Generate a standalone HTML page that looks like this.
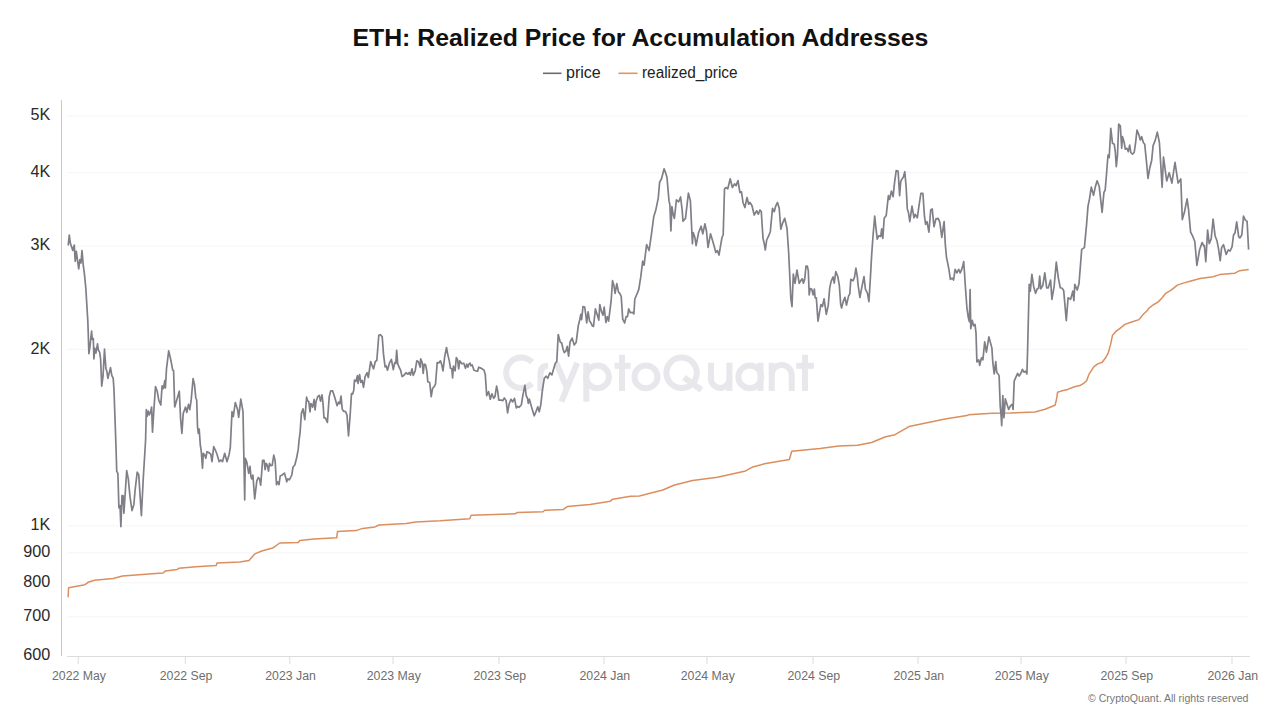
<!DOCTYPE html>
<html><head><meta charset="utf-8">
<style>
html,body{margin:0;padding:0;background:#fff;width:1280px;height:720px;overflow:hidden;}
svg{display:block;font-family:"Liberation Sans",sans-serif;}
</style></head><body>
<svg width="1280" height="720" viewBox="0 0 1280 720">
<rect width="1280" height="720" fill="#fff"/>
<text x="640.4" y="45.8" text-anchor="middle" font-size="24.82" font-weight="bold" fill="#111">ETH: Realized Price for Accumulation Addresses</text>
<line x1="543" x2="561.5" y1="73.3" y2="73.3" stroke="#6a6a74" stroke-width="1.6"/>
<text x="566" y="78" font-size="16" fill="#222">price</text>
<line x1="618.5" x2="637.5" y1="73.3" y2="73.3" stroke="#e3955f" stroke-width="1.6"/>
<text x="642" y="78" font-size="16" fill="#222" textLength="95.5" lengthAdjust="spacingAndGlyphs">realized_price</text>
<g stroke="#f5f5f5" stroke-width="1"><line x1="67" x2="1249" y1="115.9" y2="115.9" /><line x1="67" x2="1249" y1="172.7" y2="172.7" /><line x1="67" x2="1249" y1="246.0" y2="246.0" /><line x1="67" x2="1249" y1="349.3" y2="349.3" /><line x1="67" x2="1249" y1="525.9" y2="525.9" /><line x1="67" x2="1249" y1="552.8" y2="552.8" /><line x1="67" x2="1249" y1="582.8" y2="582.8" /><line x1="67" x2="1249" y1="616.8" y2="616.8" /></g>
<g fill="none" stroke="#e7e7ec" stroke-width="6">
<path d="M531.9,362.2 A15,15.2 0 1 0 531.9,383.4"/>
<path d="M540.5,391 V374 Q540.5,365.8 548.1,365.8"/>
<path d="M556.3,362.8 L567.3,389"/><path d="M577.2,362.8 L561.5,401.6"/>
<path d="M586.3,362.8 V401.6"/><circle cx="597.5" cy="376.9" r="11.4"/>
<path d="M614.5,365.8 H630.5"/><path d="M622,354.8 V391"/>
<circle cx="645.95" cy="376.9" r="11.45"/>
<circle cx="681.6" cy="372.8" r="15.2"/><path d="M684,377.5 L701.5,390"/>
<path d="M710.9,362.8 V378.5 A9.25,9.5 0 0 0 729.4,378.5"/><path d="M729.4,362.8 V391"/>
<circle cx="749.8" cy="376.9" r="11.4"/><path d="M760.5,362.8 V391"/>
<path d="M771.7,362.8 V391"/><path d="M771.7,375 A10,10 0 0 1 791.7,375 V391"/>
<path d="M796.2,365.8 H814"/><path d="M805,354.8 V391"/>
</g>
<line x1="61.5" x2="61.5" y1="100" y2="656" stroke="#c8c8c8" stroke-width="1"/>
<line x1="67" x2="1250" y1="656.5" y2="656.5" stroke="#dcdcdc" stroke-width="1"/>
<g stroke="#dcdcdc" stroke-width="1"><line x1="78.2" x2="78.2" y1="656.5" y2="664" /><line x1="185.3" x2="185.3" y1="656.5" y2="664" /><line x1="289.8" x2="289.8" y1="656.5" y2="664" /><line x1="393" x2="393" y1="656.5" y2="664" /><line x1="499" x2="499" y1="656.5" y2="664" /><line x1="604" x2="604" y1="656.5" y2="664" /><line x1="707" x2="707" y1="656.5" y2="664" /><line x1="813" x2="813" y1="656.5" y2="664" /><line x1="918" x2="918" y1="656.5" y2="664" /><line x1="1021" x2="1021" y1="656.5" y2="664" /><line x1="1126" x2="1126" y1="656.5" y2="664" /><line x1="1232" x2="1232" y1="656.5" y2="664" /></g>
<g font-size="16.2" fill="#2a2a2a" text-anchor="end"><text x="50.2" y="120.2">5K</text><text x="50.2" y="177.0">4K</text><text x="50.2" y="250.3">3K</text><text x="50.2" y="353.6">2K</text><text x="50.2" y="530.2">1K</text><text x="50.2" y="557.1">900</text><text x="50.2" y="587.1">800</text><text x="50.2" y="621.1">700</text><text x="50.2" y="660.4">600</text></g>
<g font-size="12.3" fill="#6e6e6e" text-anchor="middle"><text x="79.0" y="680">2022 May</text><text x="186.1" y="680">2022 Sep</text><text x="290.6" y="680">2023 Jan</text><text x="393.8" y="680">2023 May</text><text x="499.8" y="680">2023 Sep</text><text x="604.8" y="680">2024 Jan</text><text x="707.8" y="680">2024 May</text><text x="813.8" y="680">2024 Sep</text><text x="918.8" y="680">2025 Jan</text><text x="1021.8" y="680">2025 May</text><text x="1126.8" y="680">2025 Sep</text><text x="1232.8" y="680">2026 Jan</text></g>
<path d="M68.1,597.2 L68.6,587.8 L85.0,584.7 L88.1,582.3 L94.4,580.3 L113.1,578.4 L122.5,576.1 L152.2,573.8 L163.1,573.0 L165.5,570.9 L177.2,569.4 L178.8,568.3 L195.9,566.7 L216.2,565.6 L217.0,563.1 L239.7,562.0 L249.0,560.5 L254.7,553.9 L262.5,550.8 L272.7,548.1 L279.7,543.0 L298.4,542.5 L299.7,540.6 L314.0,539.1 L336.7,537.8 L337.5,531.6 L356.2,530.6 L362.5,528.4 L375.0,526.9 L378.9,525.0 L406.2,523.4 L415.6,521.9 L440.0,520.8 L469.7,518.8 L471.2,515.3 L515.0,513.8 L517.3,512.5 L543.1,511.7 L544.7,510.3 L563.4,509.4 L567.3,506.6 L590.0,504.4 L610.3,501.2 L612.7,499.2 L630.6,496.3 L639.4,495.9 L662.8,490.0 L673.8,485.3 L692.5,480.6 L717.5,477.2 L745.6,470.9 L751.9,467.3 L764.4,463.8 L789.4,459.5 L791.7,451.2 L809.7,449.4 L820.0,448.4 L838.8,446.1 L857.5,445.3 L871.6,442.5 L885.6,436.7 L895.0,434.7 L909.0,426.6 L929.4,422.2 L945.0,419.1 L966.9,415.6 L968.4,414.8 L991.9,413.3 L1010.0,413.0 L1035.0,412.0 L1045.0,409.2 L1055.0,405.3 L1056.4,400.0 L1057.6,392.2 L1061.1,391.1 L1067.8,389.4 L1074.4,386.7 L1080.0,385.6 L1084.4,382.8 L1086.7,380.6 L1088.9,374.4 L1093.9,366.7 L1097.8,363.9 L1102.2,362.2 L1105.6,357.8 L1108.3,352.8 L1110.6,344.4 L1112.4,335.6 L1115.6,331.7 L1120.0,328.3 L1124.9,324.4 L1131.7,322.0 L1139.0,319.6 L1143.3,314.2 L1147.2,310.8 L1148.7,308.4 L1153.0,305.0 L1157.9,302.1 L1161.8,298.2 L1165.7,293.3 L1171.5,289.9 L1177.3,285.1 L1183.2,283.1 L1190.0,281.2 L1200.0,278.6 L1213.1,276.7 L1219.7,274.6 L1234.7,273.2 L1239.3,270.8 L1248.7,269.5" fill="none" stroke="#db8e5e" stroke-width="1.5" stroke-linejoin="round"/>
<path d="M68.2,245.5 L69.3,235.1 L70.3,243.0 L72.8,250.5 L74.3,245.0 L75.2,261.3 L76.3,251.3 L78.7,268.8 L79.9,259.7 L81.0,263.0 L82.0,250.5 L83.2,264.7 L84.5,274.7 L85.8,288.0 L87.1,309.4 L87.8,320.6 L88.2,331.7 L88.9,353.6 L89.9,347.2 L91.6,331.2 L92.3,339.5 L93.3,338.5 L93.9,358.9 L94.7,348.2 L95.9,353.1 L97.5,343.8 L98.4,350.2 L99.6,352.1 L100.6,358.9 L101.7,386.1 L103.0,376.4 L104.5,349.2 L105.9,368.6 L106.9,371.6 L107.9,378.4 L109.1,373.5 L110.5,367.7 L111.8,375.4 L113.2,378.4 L114.0,390.0 L116.1,450.0 L116.7,471.1 L117.8,473.3 L118.0,476.7 L118.9,507.8 L120.0,505.6 L120.9,526.7 L122.0,495.6 L123.1,495.6 L123.9,513.3 L126.7,470.6 L128.3,478.9 L130.0,496.7 L132.0,510.6 L133.9,504.4 L135.0,491.1 L137.2,472.2 L138.7,474.4 L140.0,494.4 L141.4,515.6 L143.3,477.8 L145.0,450.0 L145.6,440.0 L146.3,409.6 L147.2,416.2 L148.3,411.0 L149.3,414.9 L150.7,411.6 L151.6,407.0 L152.5,432.1 L153.8,411.0 L155.5,386.6 L157.2,391.2 L158.8,400.4 L160.8,405.0 L162.1,385.9 L163.4,388.5 L164.8,380.6 L165.4,387.9 L166.5,368.7 L168.7,350.9 L171.0,360.8 L172.7,370.1 L173.6,370.7 L174.7,407.0 L176.6,400.4 L179.3,391.2 L180.6,418.9 L181.9,433.4 L183.2,413.6 L185.5,407.0 L186.8,412.3 L188.5,404.4 L189.8,409.6 L191.2,399.7 L193.1,378.6 L194.5,384.6 L195.8,398.0 L196.7,400.0 L197.5,426.7 L198.3,433.3 L199.2,429.2 L200.3,445.0 L201.3,451.7 L202.5,468.3 L203.3,453.3 L204.7,455.0 L205.8,458.3 L207.0,451.7 L208.7,452.5 L210.8,454.2 L212.0,461.7 L213.7,446.7 L215.3,450.0 L217.0,454.2 L219.2,461.7 L220.8,460.0 L222.5,461.7 L224.7,453.3 L227.0,461.7 L229.2,454.2 L230.3,447.5 L232.0,411.7 L233.3,416.7 L235.3,402.5 L237.5,409.2 L238.7,417.5 L240.8,399.2 L243.0,411.7 L244.7,500.0 L245.3,458.3 L246.7,461.7 L248.7,473.3 L250.0,466.3 L251.0,477.0 L251.8,478.9 L252.9,475.0 L254.7,498.9 L256.8,480.9 L258.3,477.5 L259.5,478.9 L260.7,485.2 L262.6,460.4 L264.1,460.4 L265.1,469.7 L266.1,463.3 L267.3,465.3 L268.5,471.1 L269.5,463.3 L270.9,465.8 L272.2,465.3 L273.8,455.1 L275.1,460.4 L276.5,484.7 L277.7,481.8 L279.0,484.7 L280.2,476.0 L282.1,475.0 L284.5,473.1 L286.8,481.8 L287.9,478.9 L289.4,479.9 L291.8,475.0 L293.0,467.2 L294.9,464.8 L296.7,457.5 L298.2,449.7 L299.1,440.0 L300.1,432.3 L301.4,413.4 L303.0,408.9 L304.8,419.7 L306.6,397.1 L307.6,400.8 L308.8,401.7 L310.0,412.0 L310.9,403.5 L312.7,407.1 L314.1,399.4 L315.1,409.8 L316.0,401.7 L317.7,396.7 L319.3,395.3 L320.5,401.2 L322.0,394.9 L323.1,404.4 L324.0,417.9 L325.3,417.9 L327.4,422.4 L329.2,396.7 L330.7,390.8 L332.6,390.8 L334.8,397.6 L337.1,405.7 L338.6,402.1 L339.8,403.9 L341.0,396.2 L342.2,408.9 L343.4,411.1 L345.6,411.6 L347.0,415.2 L348.5,436.0 L350.2,414.3 L351.5,393.5 L352.7,394.0 L353.8,389.9 L354.5,380.0 L355.9,381.4 L357.4,375.6 L358.0,383.4 L359.6,374.6 L360.8,382.4 L362.2,380.4 L363.5,387.3 L365.1,376.6 L367.1,372.7 L368.3,377.5 L370.7,361.5 L371.9,364.9 L373.6,368.8 L375.3,361.5 L376.8,360.5 L378.8,335.2 L380.2,334.7 L382.2,336.7 L383.6,355.2 L385.1,366.8 L386.2,365.9 L387.5,370.2 L389.5,362.9 L391.4,359.5 L393.3,369.7 L394.8,362.5 L395.8,363.4 L396.7,350.3 L397.7,363.9 L399.7,368.3 L400.6,370.2 L402.1,376.6 L403.6,375.6 L406.0,372.7 L408.0,374.2 L409.2,372.5 L410.5,375.0 L412.0,368.8 L413.2,375.4 L415.1,371.2 L416.8,360.8 L418.4,361.7 L420.1,367.1 L420.7,358.8 L422.2,362.5 L423.2,373.3 L424.2,364.2 L425.5,364.6 L426.8,370.8 L427.8,381.7 L429.7,382.5 L431.2,396.7 L432.6,388.3 L434.2,386.7 L435.5,384.2 L437.2,362.5 L438.8,362.9 L440.5,360.8 L441.8,365.0 L443.0,370.8 L444.7,356.7 L446.5,347.5 L447.8,354.6 L449.2,360.4 L450.5,368.3 L451.8,368.8 L452.6,377.9 L453.4,366.2 L455.1,370.8 L456.3,357.5 L457.6,360.0 L458.7,368.8 L459.7,360.8 L461.8,363.8 L463.8,363.3 L465.5,368.3 L466.8,364.2 L468.0,367.1 L468.6,364.5 L470.0,363.1 L470.9,365.8 L472.2,364.9 L474.0,370.3 L475.8,370.8 L477.6,371.2 L478.7,367.2 L480.8,368.1 L483.0,369.4 L484.1,370.3 L485.3,374.9 L486.7,395.6 L488.6,391.6 L490.3,399.2 L491.9,393.8 L493.7,398.3 L495.0,396.5 L496.6,386.1 L497.7,391.1 L498.8,400.1 L501.1,400.1 L502.9,400.6 L504.3,397.9 L506.1,400.6 L507.6,412.8 L509.2,403.7 L511.0,399.2 L512.6,401.9 L514.5,398.3 L516.3,407.8 L517.8,406.4 L519.2,407.3 L521.4,404.7 L522.8,395.7 L524.9,385.3 L526.2,395.7 L527.6,398.5 L528.3,403.3 L529.4,399.2 L531.1,405.4 L532.5,410.3 L534.2,415.8 L536.0,411.7 L537.8,406.8 L539.2,411.7 L540.8,404.7 L542.5,389.4 L544.3,378.3 L546.1,376.2 L547.8,378.3 L549.9,372.8 L551.9,374.9 L553.3,370.0 L555.4,363.1 L556.8,361.7 L558.2,334.6 L560.3,342.2 L561.7,342.9 L563.1,349.2 L564.2,352.6 L565.8,351.2 L567.2,346.4 L568.6,356.1 L570.0,342.2 L572.1,338.1 L574.2,345.0 L576.2,342.2 L578.3,325.6 L579.7,320.0 L580.8,314.3 L581.6,319.6 L583.0,306.5 L584.7,307.0 L585.9,315.7 L586.7,323.0 L588.1,311.8 L589.6,321.1 L591.0,323.0 L592.3,325.9 L593.5,326.4 L595.4,308.9 L596.9,313.8 L598.8,320.1 L599.8,304.5 L601.3,310.9 L603.0,315.2 L604.2,307.0 L605.9,322.5 L607.3,316.7 L608.6,321.1 L610.2,308.4 L611.2,300.2 L612.5,280.7 L613.9,285.6 L615.1,293.3 L616.8,283.6 L618.6,292.4 L619.8,293.3 L621.2,296.3 L622.7,319.1 L624.6,323.0 L626.1,316.7 L627.5,316.7 L628.7,308.9 L630.4,312.8 L632.4,312.3 L633.9,313.8 L634.8,299.2 L638.8,289.4 L640.8,276.7 L642.7,261.2 L644.1,265.1 L646.6,244.6 L649.1,250.5 L651.5,233.9 L653.8,216.4 L655.7,210.6 L658.3,197.9 L659.6,182.4 L661.6,178.5 L664.1,168.8 L665.5,172.6 L667.0,177.5 L669.0,200.9 L669.9,204.7 L670.9,231.0 L671.9,206.7 L673.2,214.5 L674.4,218.4 L676.4,199.9 L678.7,201.8 L680.6,197.0 L682.2,210.6 L683.0,221.3 L685.5,218.4 L688.4,193.1 L690.4,200.9 L692.4,243.8 L693.2,232.5 L694.9,237.5 L696.1,245.6 L698.6,232.5 L701.1,226.2 L702.8,233.8 L704.9,223.8 L706.5,231.2 L708.0,247.5 L710.5,233.8 L712.4,240.0 L714.2,246.2 L715.8,252.5 L717.4,250.6 L719.0,255.0 L720.5,246.2 L722.0,237.5 L723.2,235.0 L724.5,188.8 L726.1,187.5 L727.8,188.8 L730.2,178.8 L732.4,187.5 L734.5,183.8 L736.1,185.6 L738.0,180.6 L739.9,192.5 L741.5,191.9 L743.0,202.5 L744.9,207.5 L747.0,197.5 L748.7,204.2 L750.0,202.5 L752.0,205.8 L754.2,215.0 L756.7,210.8 L758.3,214.2 L760.0,210.0 L761.3,211.7 L763.0,238.3 L764.2,243.3 L765.3,250.0 L766.7,240.0 L768.3,236.7 L770.3,231.7 L772.5,208.3 L774.2,211.7 L775.8,205.8 L777.5,202.5 L779.2,208.3 L780.8,229.2 L782.5,223.3 L784.7,218.3 L787.0,228.3 L788.7,253.3 L790.8,298.3 L792.0,306.7 L793.3,274.2 L795.0,283.3 L797.0,270.0 L799.2,283.3 L801.7,279.2 L802.4,278.8 L803.4,283.2 L804.7,279.3 L806.0,266.2 L807.3,266.2 L808.3,270.6 L809.2,294.9 L810.2,288.6 L811.7,289.0 L813.1,294.9 L814.4,289.0 L815.1,297.8 L816.3,297.8 L818.0,321.1 L819.5,312.4 L820.9,304.6 L822.4,306.6 L824.1,298.8 L826.3,314.3 L828.2,305.6 L829.7,288.1 L831.1,281.3 L833.1,276.9 L834.2,283.2 L835.8,271.5 L837.9,276.9 L839.4,286.1 L840.7,304.6 L841.6,308.0 L843.3,301.2 L844.9,297.3 L846.5,305.1 L848.6,295.9 L849.8,293.9 L850.8,279.3 L853.0,280.8 L854.5,277.4 L855.9,268.1 L857.4,277.4 L858.1,285.0 L859.9,297.5 L861.7,287.8 L864.0,276.7 L865.4,289.2 L867.5,293.3 L868.9,301.7 L870.3,279.4 L871.7,254.4 L873.1,235.0 L874.7,216.2 L875.8,226.7 L877.2,239.2 L878.9,235.7 L880.7,236.4 L881.7,228.8 L882.8,238.5 L884.2,218.3 L886.2,215.6 L888.4,195.6 L889.6,199.4 L891.4,191.1 L893.1,196.7 L894.4,183.9 L896.2,170.6 L898.1,171.1 L899.6,195.6 L900.7,181.7 L902.0,178.9 L903.3,177.2 L904.8,171.7 L906.2,187.8 L907.3,208.9 L908.4,212.2 L909.8,221.7 L912.0,206.1 L914.0,217.8 L915.3,214.4 L917.3,217.8 L919.2,204.4 L920.9,193.3 L922.9,193.3 L924.4,215.6 L925.6,224.4 L927.0,221.7 L928.9,232.2 L930.7,210.0 L932.2,208.9 L934.0,226.7 L935.9,218.9 L938.1,218.3 L939.8,222.2 L941.4,234.4 L941.8,237.4 L944.1,221.5 L945.3,244.5 L946.5,257.5 L948.0,264.6 L948.9,269.3 L950.4,279.3 L952.2,278.2 L953.6,280.0 L955.1,269.3 L956.9,272.9 L958.7,269.3 L960.2,272.9 L962.2,268.1 L963.7,261.6 L964.6,274.0 L964.9,280.0 L965.6,289.7 L966.9,307.8 L968.3,317.5 L969.4,321.7 L970.1,289.7 L970.8,328.6 L972.2,320.3 L973.6,325.8 L975.0,324.4 L976.0,332.8 L976.9,361.9 L978.8,359.9 L979.7,365.4 L981.5,357.8 L982.9,359.9 L984.7,341.8 L986.4,352.2 L988.9,336.9 L991.9,348.1 L992.8,362.2 L994.2,373.9 L995.8,361.7 L996.7,372.2 L998.0,373.9 L999.1,375.6 L1000.2,405.6 L1001.1,415.6 L1001.7,425.6 L1002.8,395.6 L1003.9,417.8 L1005.3,398.9 L1006.7,403.3 L1008.7,409.4 L1010.6,405.6 L1012.2,404.4 L1013.1,409.4 L1014.2,381.1 L1015.6,377.8 L1017.6,373.3 L1019.1,376.1 L1020.9,373.3 L1022.4,369.4 L1023.9,372.2 L1025.6,371.1 L1026.9,373.9 L1027.6,350.0 L1029.2,284.4 L1030.3,291.1 L1031.9,274.4 L1033.7,286.7 L1035.6,293.3 L1037.2,288.9 L1038.6,288.3 L1039.7,276.1 L1040.8,288.9 L1042.8,285.6 L1044.8,272.8 L1046.7,287.8 L1048.3,287.8 L1050.6,280.0 L1051.9,299.4 L1054.1,286.7 L1056.3,262.2 L1058.3,277.8 L1060.3,287.8 L1062.2,288.3 L1063.7,290.6 L1066.3,320.6 L1068.1,297.8 L1070.6,299.4 L1072.8,291.1 L1073.9,300.6 L1074.8,284.4 L1077.2,290.0 L1079.0,283.7 L1081.7,249.4 L1084.4,247.6 L1086.6,224.2 L1088.0,206.1 L1089.5,198.9 L1091.3,187.1 L1093.5,195.3 L1095.3,187.1 L1097.1,180.8 L1099.2,186.2 L1101.0,202.5 L1102.1,212.4 L1103.9,192.6 L1105.2,189.9 L1106.3,176.7 L1108.0,155.0 L1109.2,157.5 L1110.8,128.3 L1112.5,143.3 L1114.2,144.2 L1115.3,151.7 L1116.3,166.7 L1117.5,155.0 L1118.7,124.2 L1120.3,125.8 L1121.7,148.3 L1122.5,136.7 L1124.2,142.5 L1125.3,149.2 L1127.0,148.3 L1128.3,151.7 L1129.7,145.0 L1130.8,152.5 L1132.5,154.2 L1134.2,152.5 L1135.5,143.3 L1137.0,130.0 L1138.7,134.2 L1140.3,140.0 L1141.7,136.7 L1143.3,142.5 L1144.7,144.2 L1146.3,160.0 L1148.0,178.3 L1149.7,168.3 L1151.7,160.2 L1153.1,145.6 L1155.2,140.4 L1157.3,132.1 L1159.4,142.5 L1160.8,165.4 L1162.1,187.3 L1163.5,157.1 L1166.7,181.0 L1169.2,172.7 L1171.9,183.1 L1175.0,162.3 L1178.1,183.1 L1180.8,179.0 L1182.3,219.6 L1184.4,212.3 L1187.1,198.8 L1188.5,209.2 L1190.6,232.1 L1192.7,236.2 L1194.8,241.5 L1196.9,265.4 L1199.6,249.8 L1202.1,242.5 L1204.2,246.7 L1204.4,245.7 L1205.8,261.7 L1207.6,230.1 L1209.2,243.7 L1211.2,238.9 L1213.1,219.0 L1215.1,236.0 L1217.0,240.8 L1218.5,248.6 L1220.2,260.7 L1221.6,247.6 L1223.5,244.7 L1226.2,254.4 L1228.2,250.0 L1230.1,251.0 L1232.1,246.6 L1233.5,235.0 L1235.0,233.0 L1236.7,221.9 L1238.7,236.9 L1239.8,237.9 L1241.8,235.0 L1243.5,216.0 L1245.2,219.9 L1247.1,221.4 L1248.6,249.6" fill="none" stroke="#7f7f88" stroke-width="1.7" stroke-linejoin="round"/>
<text x="1088" y="702.2" font-size="11.6" fill="#777" textLength="160.5" lengthAdjust="spacingAndGlyphs">© CryptoQuant. All rights reserved</text>
</svg>
</body></html>
